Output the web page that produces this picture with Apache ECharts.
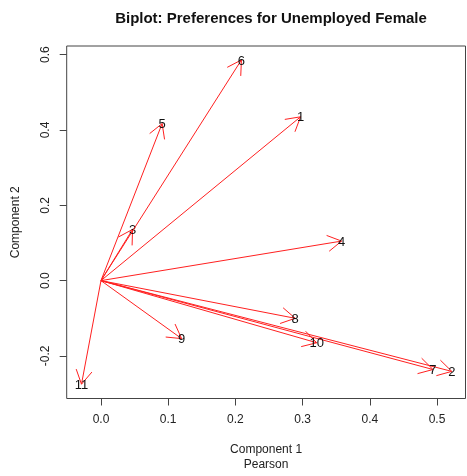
<!DOCTYPE html>
<html>
<head>
<meta charset="utf-8">
<script src="https://cdn.jsdelivr.net/npm/echarts@6/dist/echarts.min.js"></script>
<style>
html,body{margin:0;padding:0;background:#fff;}
#main{width:467px;height:476px;}
</style>
</head>
<body>
<div id="main"></div>
<script>
// Variable labels and loadings (arrow end points)
const varLabels = ['1','2','3','4','5','6','7','8','9','10','11'];
const comp1 = [0.297, 0.522, 0.047, 0.358, 0.091, 0.209, 0.494, 0.289, 0.120, 0.321, -0.029];
const comp2 = [0.435, -0.241, 0.136, 0.105, 0.417, 0.586, -0.236, -0.100, -0.154, -0.165, -0.275];
const xTicks = [0.0, 0.1, 0.2, 0.3, 0.4, 0.5];
const yTicks = [-0.2, 0.0, 0.2, 0.4, 0.6];

const FONT = 'Liberation Sans, Arial, Helvetica, sans-serif';
const data = varLabels.map((l, i) => [comp1[i], comp2[i], l]);

const chart = echarts.init(document.getElementById('main'), null, {renderer: 'canvas'});
chart.setOption({
  animation: false,
  backgroundColor: '#fff',
  title: {
    text: 'Biplot: Preferences for Unemployed Female',
    left: 266, top: 6, textAlign: 'center',
    textStyle: {fontFamily: FONT, fontSize: 15, fontWeight: 'bold', color: '#111'}
  },
  grid: {
    left: 66.7, right: 1.5, top: 46, bottom: 74.7,
    show: true, borderColor: '#444', borderWidth: 1, backgroundColor: 'transparent'
  },
  xAxis: {
    type: 'value', min: -0.051, max: 0.5424,
    splitLine: {show: false},
    axisLine: {show: false, onZero: false},
    axisTick: {show: true, inside: false, length: 7, customValues: xTicks, lineStyle: {color: '#444'}},
    axisLabel: {show: true, margin: 15, customValues: xTicks, formatter: v => v.toFixed(1),
      fontFamily: FONT, fontSize: 12, color: '#222'},
    name: '{a|Component 1}\n{a|Pearson}',
    nameLocation: 'middle', nameGap: 44,
    nameTextStyle: {rich: {a: {fontFamily: FONT, fontSize: 12, color: '#222', lineHeight: 15}}}
  },
  yAxis: {
    type: 'value', min: -0.313, max: 0.623,
    splitLine: {show: false},
    axisLine: {show: false, onZero: false},
    axisTick: {show: true, inside: false, length: 7, customValues: yTicks, lineStyle: {color: '#444'}},
    axisLabel: {show: true, margin: 15, rotate: 90, customValues: yTicks, formatter: v => v.toFixed(1),
      fontFamily: FONT, fontSize: 12, color: '#222'},
    name: 'Component 2',
    nameLocation: 'middle', nameGap: 45, nameRotate: 90,
    nameTextStyle: {fontFamily: FONT, fontSize: 12, color: '#222'}
  },
  series: [{
    type: 'custom',
    data: data,
    clip: false,
    encode: {x: 0, y: 1},
    renderItem: function (params, api) {
      const p0 = api.coord([0, 0]);
      const p1 = api.coord([api.value(0), api.value(1)]);
      const a = Math.atan2(p1[1] - p0[1], p1[0] - p0[0]);
      const L = 16, h = Math.PI / 6;
      const h1 = [p1[0] - L * Math.cos(a - h), p1[1] - L * Math.sin(a - h)];
      const h2 = [p1[0] - L * Math.cos(a + h), p1[1] - L * Math.sin(a + h)];
      const st = {stroke: '#ff2020', lineWidth: 1};
      return {
        type: 'group',
        children: [
          {type: 'line', shape: {x1: p0[0], y1: p0[1], x2: p1[0], y2: p1[1]}, style: st},
          {type: 'line', shape: {x1: p1[0], y1: p1[1], x2: h1[0], y2: h1[1]}, style: st},
          {type: 'line', shape: {x1: p1[0], y1: p1[1], x2: h2[0], y2: h2[1]}, style: st},
          {type: 'text', x: p1[0], y: p1[1] + 1,
            style: {text: api.value(2), fill: '#111', font: '13px ' + FONT, align: 'center', verticalAlign: 'middle'}}
        ]
      };
    }
  }]
});
</script>
</body>
</html>
